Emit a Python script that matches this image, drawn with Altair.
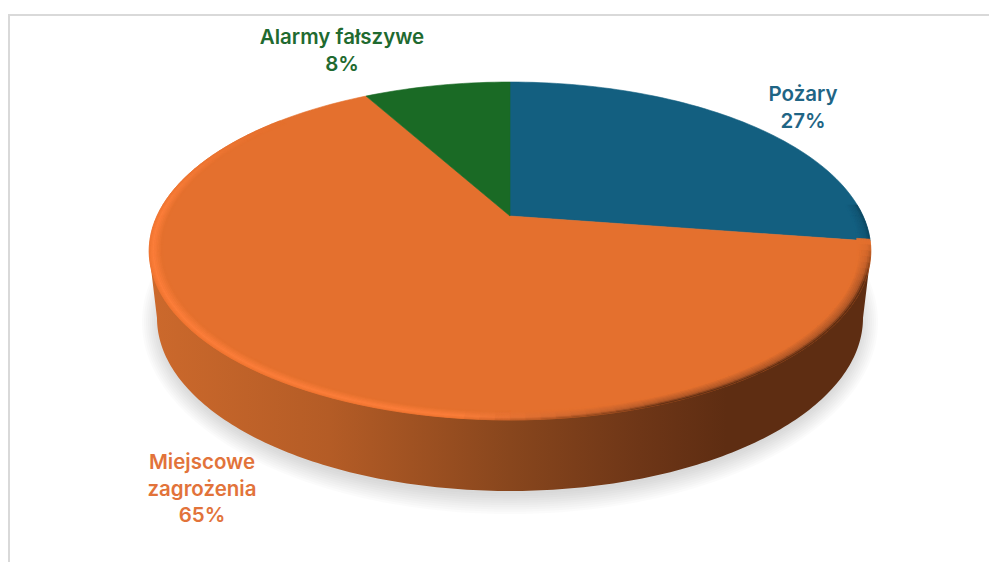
import math
import altair as alt

categories = ["Pożary", "Miejscowe zagrożenia", "Alarmy fałszywe"]
shares = [27.4, 64.6, 8.0]
label_lines = [["Pożary", "27%"], ["Miejscowe", "zagrożenia", "65%"], ["Alarmy fałszywe", "8%"]]
slice_colors = ["#135F80", "#E4702E", "#1A6A25"]
text_colors = ["#1F6585", "#E2733A", "#1F6A30"]
label_pos = [(803, 95), (202, 463), (342, 38)]

# perspective of the pie's top disc, in page pixels
CX, APEX_Y, KX, A, C = 510, 216, 353, -117, 0.207


def disc(theta_deg, r=1.0):
    t = math.radians(theta_deg)
    u, v = r * math.sin(t), r * math.cos(t)
    d = 1 + C * v
    return [CX + KX * u / d, (A * v + APEX_Y) / d]


def hex_mix(a, b, t):
    t = max(0.0, min(1.0, t))
    return tuple(a[i] + (b[i] - a[i]) * t for i in range(3))


def to_hex(c):
    return "#%02x%02x%02x" % tuple(int(round(x)) for x in c)


def rgb(h):
    return tuple(int(h[i:i + 2], 16) for i in (1, 3, 5))


def feature(points, color="#000000"):
    pts = points + [points[0]]
    return {"type": "Feature", "properties": {"c": color},
            "geometry": {"type": "Polygon", "coordinates": [pts]}}


def ellipse(cx, cy, rx, ry, a0=0, a1=360, n=180):
    return [[cx + rx * math.cos(math.radians(a0 + (a1 - a0) * i / n)),
             cy + ry * math.sin(math.radians(a0 + (a1 - a0) * i / n))] for i in range(n + 1)]


def geo(features):
    return alt.InlineData(values={"type": "FeatureCollection", "features": features},
                          format=alt.DataFormat(property="features", type="json"))


# slices on the top face
edges = [0]
for s in shares:
    edges.append(edges[-1] + s * 3.6)
top = []
for i, col in enumerate(slice_colors):
    n = max(6, int((edges[i + 1] - edges[i]) / 1.5))
    arc = [disc(edges[i] + (edges[i + 1] - edges[i]) * k / n) for k in range(n + 1)]
    top.append(feature([[CX, APEX_Y]] + arc, col))

# soft bevel along the near rim
layers = [1.0 - 0.0045 * k for k in range(9)]
rim = []
step = 2.0
a = 86.0
END = 312.0
while a < END:
    b = a + step
    mid = (a + b) / 2
    x = disc(mid)[0]
    s = (x - 150) / 720
    side = max(0.0, min(1.0, (s - 0.42) / 0.3))
    if mid < edges[1]:
        base = rgb(slice_colors[0])
        outer_r = (13, 72, 98); mid_r = (17, 86, 116); outer_l = mid_l = base
        fade = 1.0
    else:
        base = rgb(slice_colors[1])
        outer_r = (94, 45, 18); mid_r = (176, 88, 40)
        outer_l = (242, 118, 50); mid_l = (252, 126, 58)
        fade = min(1.0, (mid - edges[1]) / 14, (END - mid) / 40)
    for j in range(len(layers) - 1):
        r0, r1 = layers[j], layers[j + 1]
        pos = j / (len(layers) - 2)
        if pos < 0.3:
            l = hex_mix(outer_l, mid_l, pos / 0.3)
            rr = hex_mix(outer_r, mid_r, pos / 0.3)
        else:
            l = hex_mix(mid_l, base, (pos - 0.3) / 0.7)
            rr = hex_mix(mid_r, base, (pos - 0.3) / 0.7)
        col = hex_mix(base, hex_mix(l, rr, side), fade)
        rim.append(feature([disc(a, r0), disc(b, r0), disc(b, r1), disc(a, r1)], to_hex(col)))
    a = b

# side wall: near half of the lower rim, joined up to the top disc's extremes
wall_pts = [[149, 252]] + ellipse(510, 318, 353, 173, 180, 0) + [[871, 252]]
wall_fill = alt.LinearGradient(
    gradient="linear", x1=0, x2=1, y1=0, y2=0,
    stops=[alt.GradientStop(offset=0.0, color="#CC692C"),
           alt.GradientStop(offset=0.25, color="#B45C26"),
           alt.GradientStop(offset=0.5, color="#88461D"),
           alt.GradientStop(offset=0.68, color="#6E3617"),
           alt.GradientStop(offset=0.8, color="#5E2D12"),
           alt.GradientStop(offset=1.0, color="#5E2D12")])

proj = dict(type="identity", scale=1, translate=[-8, -8])
layer_list = []

# frame
layer_list.append(alt.Chart(alt.Data(values=[{"a": 1}])).mark_rule(color="#D9D9D9", strokeWidth=2).encode(
    x=alt.value(1), y=alt.value(7), y2=alt.value(570)))
layer_list.append(alt.Chart(alt.Data(values=[{"a": 1}])).mark_rule(color="#D9D9D9", strokeWidth=2).encode(
    x=alt.value(0), x2=alt.value(997), y=alt.value(7)))

# shadow
shadow = []
for i in range(10):
    k = i / 9
    shadow.append(feature(ellipse(510, 322, 368 - 18 * k, 192 - 20 * k)))
layer_list.append(alt.Chart(geo(shadow)).mark_geoshape(fill="#808488", fillOpacity=0.03, strokeWidth=0).project(**proj))

layer_list.append(alt.Chart(geo([feature(wall_pts)])).mark_geoshape(fill=wall_fill, strokeWidth=0).project(**proj))

layer_list.append(alt.Chart(geo(top + rim)).mark_geoshape(strokeWidth=0.6).encode(
    fill=alt.Fill("properties.c:N", scale=None),
    stroke=alt.Stroke("properties.c:N", scale=None)).project(**proj))

# labels
for lines, col, (lx, ly) in zip(label_lines, text_colors, label_pos):
    for i, line in enumerate(lines):
        layer_list.append(
            alt.Chart(alt.Data(values=[{"t": line}])).mark_text(
                font="Inter", fontSize=20.5, fontWeight=600, color=col, align="center", baseline="middle"
            ).encode(text="t:N", x=alt.value(lx - 8), y=alt.value(ly - 8 + i * 26.5))
        )

chart = alt.layer(*layer_list).properties(
    width=981, height=554, padding=0, autosize=alt.AutoSizeParams(type="none"), background="white"
).configure_view(strokeWidth=0)

chart.save("out.html", embed_options={"renderer": "svg", "actions": False})
